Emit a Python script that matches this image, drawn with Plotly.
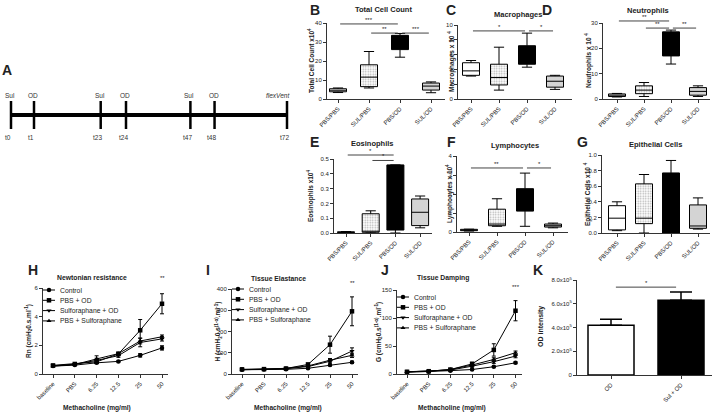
import plotly.graph_objects as go

# ---------------------------------------------------------------- data
timeline_labels = ["t0", "t1", "t23", "t24", "t47", "t48", "t72"]
timeline_events = ["Sul", "OD", "Sul", "OD", "Sul", "OD", "<i>flexVent</i>"]
timeline_schematic = [0, 1, 3.9, 5.0, 7.8, 8.85, 12.0]   # schematic (not to scale) spacing

box_categories = ["PBS/PBS", "SUL/PBS", "PBS/OD", "SUL/OD"]
# each group: [min, q1, median, q3, max]
total_cell_count = [[3.4, 3.8, 4.6, 5.4, 5.8], [5.8, 6.5, 11.5, 18.0, 25.0],
                    [22.0, 26.0, 32.5, 33.5, 34.5], [3.3, 4.7, 6.8, 8.4, 9.0]]
macrophages = [[3.1, 3.2, 3.8, 4.9, 5.2], [1.2, 1.9, 2.9, 4.7, 7.0],
               [4.3, 4.7, 6.0, 7.2, 8.9], [1.3, 1.6, 2.4, 3.1, 3.2]]
neutrophils = [[0.8, 1.0, 1.5, 2.0, 2.2], [1.0, 2.1, 3.5, 5.2, 6.5],
               [13.8, 17.0, 25.5, 26.5, 27.2], [1.0, 1.5, 3.0, 4.5, 5.2]]
eosinophils = [[0.002, 0.003, 0.005, 0.008, 0.010], [0.0, 0.005, 0.012, 0.13, 0.15],
               [0.0, 0.02, 0.45, 0.46, 0.46], [0.035, 0.05, 0.14, 0.23, 0.25]]
lymphocytes = [[0.05, 0.07, 0.10, 0.14, 0.15], [0.30, 0.33, 0.42, 1.20, 1.75],
               [0.30, 1.10, 1.60, 2.28, 3.10], [0.22, 0.26, 0.33, 0.42, 0.47]]
epithelial = [[0.03, 0.04, 0.19, 0.35, 0.40], [0.0, 0.12, 0.19, 0.63, 0.75],
              [0.0, 0.0, 0.50, 0.77, 0.93], [0.05, 0.06, 0.09, 0.36, 0.45]]

# significance bars: (from group, to group, height, label)
total_cell_sig = [(0, 2, 39.5, "***"), (1, 2, 34.7, "**"), (2, 3, 34.7, "***")]
macrophage_sig = [(0, 2, 9.2, "*"), (2, 3, 9.2, "*")]
neutrophil_sig = [(0, 2, 30.8, "**"), (1, 2, 28.0, "**"), (2, 3, 28.0, "**")]
eosinophil_sig = [(0, 2, 0.527, "*"), (1, 2, 0.49, "*")]
lymphocyte_sig = [(0, 2, 3.37, "**"), (2, 3, 3.37, "*")]

methacholine_doses = ["baseline", "PBS", "6.25", "12.5", "25", "50"]
series_names = ["Control", "PBS + OD", "Sulforaphane + OD", "PBS + Sulforaphane"]

rn_mean = [[0.55, 0.62, 0.78, 0.88, 1.30, 1.82],
           [0.60, 0.70, 0.85, 1.40, 3.05, 4.90],
           [0.58, 0.68, 0.95, 1.28, 2.20, 2.45],
           [0.55, 0.66, 1.05, 1.42, 2.30, 2.60]]
rn_sem = [[0.03, 0.03, 0.05, 0.05, 0.12, 0.15],
          [0.05, 0.05, 0.10, 0.12, 0.75, 0.70],
          [0.04, 0.05, 0.15, 0.12, 0.30, 0.15],
          [0.04, 0.05, 0.22, 0.10, 0.20, 0.12]]
h_mean = [[20, 21, 22, 27, 42, 55],
          [22, 23, 26, 45, 138, 295],
          [20, 22, 25, 35, 60, 108],
          [21, 22, 27, 38, 65, 88]]
h_sem = [[2, 2, 2, 3, 4, 5],
         [2, 2, 3, 6, 40, 68],
         [2, 2, 3, 4, 8, 15],
         [2, 2, 3, 4, 8, 10]]
g_mean = [[3, 4, 6, 8, 13, 20],
          [4, 5, 8, 18, 43, 113],
          [4, 5, 7, 14, 22, 32],
          [4, 5, 8, 16, 26, 38]]
g_sem = [[0.5, 0.5, 0.5, 1, 1, 1.5],
         [0.5, 0.5, 1, 3, 11, 18],
         [0.5, 0.5, 1, 2, 3, 3],
         [0.5, 0.5, 1, 2, 3, 3]]
rn_sig = ("50", 6.35, "**")
h_sig = ("50", 405, "**")
g_sig = ("50", 146, "***")

od_groups = ["OD", "Sul + OD"]
od_intensity = [4.2e5, 6.3e5]
od_sem = [0.5e5, 0.7e5]
od_sig = [(0, 1, 7.4e5, "*")]
od_tickvals = [0, 2e5, 4e5, 6e5, 8e5]
od_ticktext = ["0", "2.0x10<sup>5</sup>", "4.0x10<sup>5</sup>", "6.0x10<sup>5</sup>", "8.0x10<sup>5</sup>"]

# ---------------------------------------------------------------- layout helpers
W, H = 714, 413
FONT = "Arial"
AXC = "#333333"
TXT = "#222222"

fig = go.Figure()
layout = dict(template="none", width=W, height=H, autosize=False, margin=dict(l=0, r=0, t=0, b=0, pad=0),
              paper_bgcolor="white", plot_bgcolor="rgba(0,0,0,0)", showlegend=False,
              barmode="overlay", boxmode="overlay",
              font=dict(family=FONT, color=TXT))
annotations = []
shapes = []


def akey(n, l):
    return f"{l}axis" if n == 1 else f"{l}axis{n}"


def aref(n, l):
    return l if n == 1 else f"{l}{n}"


def pxx(x):
    return x / W


def pxy(y):
    return 1 - y / H


def text(t, x, y, size=7, bold=False, angle=0, xanchor="center", yanchor="middle"):
    if bold:
        t = f"<b>{t}</b>"
    annotations.append(dict(text=t, x=pxx(x), y=pxy(y), xref="paper", yref="paper",
                            showarrow=False, textangle=angle, xanchor=xanchor, yanchor=yanchor,
                            font=dict(size=size, family=FONT, color=TXT)))


def y_to_paper(p, v):
    r0, r1 = p["yrange"]
    top, bot = p["ypx"]
    return pxy(bot) + (v - r0) / (r1 - r0) * (pxy(top) - pxy(bot))


BASE = dict(showgrid=False, zeroline=False, showline=True, linecolor=AXC, linewidth=1,
            ticks="outside", ticklen=3, tickwidth=1, tickcolor=AXC, automargin=False,
            tickfont=dict(size=6, family=FONT, color=TXT), fixedrange=True)


def setup_axes(p, xcfg, ycfg):
    n = p["n"]
    x0, x1 = p["xpx"]
    top, bot = p["ypx"]
    xr = [(x0 - p["first"]) / p["step"], (x1 - p["first"]) / p["step"]]
    layout[akey(n, "x")] = dict(BASE, domain=[pxx(x0), pxx(x1)], range=xr, anchor=aref(n, "y"), **xcfg)
    layout[akey(n, "y")] = dict(BASE, domain=[pxy(bot), pxy(top)], range=p["yrange"], anchor=aref(n, "x"), **ycfg)


def sig_bars(p, sig):
    n = p["n"]
    for a, b, v, stars in sig:
        yp = y_to_paper(p, v)
        shapes.append(dict(type="line", xref=aref(n, "x"), yref="paper", x0=a + 0.07, x1=b - 0.07,
                           y0=yp, y1=yp, line=dict(color="#444", width=1)))
        annotations.append(dict(text=stars, x=(a + b) / 2, y=yp, xref=aref(n, "x"), yref="paper",
                                yanchor="bottom", showarrow=False, yshift=-1,
                                font=dict(size=6, family=FONT, color=TXT)))


PANELS = {
    "B": dict(n=2, xpx=(327, 445), ypx=(23, 99), first=338, step=31, yrange=[0, 40], dtick=10,
              letter=(315, 10), title=(383, 9), ytitle_x=311),
    "C": dict(n=3, xpx=(458, 572), ypx=(25, 99), first=471, step=28, yrange=[0, 10], dtick=2,
              letter=(451, 10), title=(518, 14), ytitle_x=451),
    "D": dict(n=4, xpx=(603, 710), ypx=(23, 99), first=617, step=27, yrange=[0, 30], dtick=10,
              letter=(547, 10), title=(648, 10), ytitle_x=589),
    "E": dict(n=5, xpx=(334, 432), ypx=(159, 233), first=346, step=24.7, yrange=[0, 0.5], dtick=0.1,
              letter=(314, 142), title=(372, 143), ytitle_x=310),
    "F": dict(n=6, xpx=(457, 568), ypx=(156, 232), first=469, step=28, yrange=[0, 4], dtick=1,
              letter=(451, 142), title=(515, 145), ytitle_x=449),
    "G": dict(n=7, xpx=(602, 710), ypx=(155, 233), first=617, step=27, yrange=[0, 1.0], dtick=0.2,
              letter=(582, 142), title=(655, 144), ytitle_x=587),
    "H": dict(n=8, xpx=(43, 168), ypx=(288, 374), first=53, step=21.8, yrange=[0, 6], dtick=2,
              letter=(33, 270), title=(92, 277), ytitle_x=28, xtitle=97, legend_y=290),
    "I": dict(n=9, xpx=(232, 358), ypx=(289, 374), first=242, step=22, yrange=[0, 400], dtick=100,
              letter=(208, 270), title=(278, 278), ytitle_x=218, xtitle=288, legend_y=289),
    "J": dict(n=10, xpx=(397, 522), ypx=(290, 374), first=407, step=21.7, yrange=[0, 150], dtick=50,
              letter=(385, 270), title=(443, 278), ytitle_x=378, xtitle=452, legend_y=297),
    "K": dict(n=11, xpx=(577, 712), ypx=(280, 375), first=611, step=70, yrange=[0, 8e5],
              letter=(538, 270), ytitle_x=541),
}

BOX_FILLS = ["white", "dots", "black", "#d4d4d4"]
BOX_PX = 17


def panel_text(key, title, ytitle, ysize=6.5, tsize=7.5):
    p = PANELS[key]
    text(key, *p["letter"], size=14, bold=True)
    if title:
        text(title, *p["title"], size=tsize, bold=True)
    top, bot = p["ypx"]
    text(ytitle, p["ytitle_x"], (top + bot) / 2, size=ysize, bold=True, angle=-90)


def box_panel(key, stats, sig, title, ytitle, tickformat=""):
    p = PANELS[key]
    n = p["n"]
    setup_axes(p, dict(type="category", categoryorder="array", categoryarray=box_categories, tickangle=-45),
               dict(dtick=p["dtick"], tick0=0, tickformat=tickformat))
    bw = BOX_PX / p["step"]
    for cat, s, fill in zip(box_categories, stats, BOX_FILLS):
        mn, q1, med, q3, mx = s
        fc = fill
        if fill == "dots":
            fig.add_trace(go.Bar(x=[cat], y=[q3 - q1], base=[q1], width=[bw],
                                 marker=dict(color="white", line=dict(width=0),
                                             pattern=dict(shape=".", fgcolor="#b0b0b0", bgcolor="white",
                                                          size=2.5, solidity=0.3)),
                                 xaxis=aref(n, "x"), yaxis=aref(n, "y"), hoverinfo="skip"))
            fc = "rgba(0,0,0,0)"
        fig.add_trace(go.Box(x=[cat], q1=[q1], median=[med], q3=[q3], lowerfence=[mn], upperfence=[mx],
                             orientation="v", width=bw, fillcolor=fc, whiskerwidth=0.6,
                             line=dict(color="black", width=1), boxpoints=False,
                             xaxis=aref(n, "x"), yaxis=aref(n, "y")))
    sig_bars(p, sig)
    panel_text(key, title, ytitle)


SYMBOLS = ["circle", "square", "triangle-down", "triangle-up"]


def line_panel(key, means, sems, sig, title, ytitle):
    p = PANELS[key]
    n = p["n"]
    setup_axes(p, dict(type="category", categoryorder="array", categoryarray=methacholine_doses, tickangle=-45),
               dict(dtick=p["dtick"], tick0=0))
    for m, e, sym in zip(means, sems, SYMBOLS):
        fig.add_trace(go.Scatter(x=methacholine_doses, y=m, mode="lines+markers",
                                 line=dict(color="black", width=1),
                                 marker=dict(symbol=sym, size=4.5, color="black"),
                                 error_y=dict(type="data", array=e, color="black", thickness=1, width=2),
                                 cliponaxis=False, xaxis=aref(n, "x"), yaxis=aref(n, "y")))
    dose, v, stars = sig
    annotations.append(dict(text=stars, x=methacholine_doses.index(dose), y=y_to_paper(p, v),
                            xref=aref(n, "x"), yref="paper", showarrow=False,
                            font=dict(size=6, family=FONT, color=TXT)))
    panel_text(key, title, ytitle, tsize=6.8)
    text("Methacholine (mg/ml)", p["xtitle"], 408, size=6.6, bold=True)
    # legend keys (drawn on the full-page pixel overlay axis 12)
    lx = p["xpx"][0]
    for i, (name, sym) in enumerate(zip(series_names, SYMBOLS)):
        ly = p["legend_y"] + i * 10.3
        fig.add_trace(go.Scatter(x=[lx, lx + 12], y=[ly, ly], mode="lines", line=dict(color="black", width=1),
                                 xaxis="x12", yaxis="y12", hoverinfo="skip"))
        fig.add_trace(go.Scatter(x=[lx + 6], y=[ly], mode="markers",
                                 marker=dict(symbol=sym, size=4.5, color="black"),
                                 xaxis="x12", yaxis="y12", hoverinfo="skip"))
        text(name, lx + 15, ly, size=6.8, xanchor="left")


# ---------------------------------------------------------------- panel A (timeline)
tl_unit, tl_origin = 23, 11
layout["xaxis"] = dict(domain=[0, pxx(300)], range=[(0 - tl_origin) / tl_unit, (300 - tl_origin) / tl_unit],
                       visible=False, fixedrange=True, anchor="y", automargin=False)
layout["yaxis"] = dict(domain=[pxy(135), pxy(95)], range=[-1, 1], visible=False, fixedrange=True, anchor="x",
                       automargin=False)
fig.add_trace(go.Scatter(x=[timeline_schematic[0], timeline_schematic[-1]], y=[0, 0], mode="lines",
                         line=dict(color="black", width=4), xaxis="x", yaxis="y", hoverinfo="skip"))
fig.add_trace(go.Scatter(x=timeline_schematic, y=[0] * len(timeline_schematic), mode="markers",
                         marker=dict(symbol="line-ns-open", size=20, color="black",
                                     line=dict(color="black", width=2.5)),
                         xaxis="x", yaxis="y", hoverinfo="skip", cliponaxis=False))
for pos, lab, ev in zip(timeline_schematic, timeline_labels, timeline_events):
    annotations.append(dict(text=lab, x=pos, y=pxy(132), xref="x", yref="paper", showarrow=False,
                            xshift=-3, font=dict(size=6.5, family=FONT, color="#333")))
    annotations.append(dict(text=ev, x=pos, y=pxy(90), xref="x", yref="paper", showarrow=False,
                            xshift=-9 if "flex" in ev else -1, font=dict(size=6.5, family=FONT, color="#333")))
text("A", 7, 70, size=14, bold=True)

# full-page pixel overlay axis for legend keys
layout["xaxis12"] = dict(domain=[0, 1], range=[0, W], visible=False, fixedrange=True, anchor="y12", automargin=False)
layout["yaxis12"] = dict(domain=[0, 1], range=[H, 0], visible=False, fixedrange=True, anchor="x12", automargin=False)

# ---------------------------------------------------------------- box panels
box_panel("B", total_cell_count, total_cell_sig, "Total Cell Count", "Total Cell Count x10<sup>4</sup>")
box_panel("C", macrophages, macrophage_sig, "Macrophages", "Macrophages x 10 <sup>4</sup>")
box_panel("D", neutrophils, neutrophil_sig, "Neutrophils", "Neutrophils x 10 <sup>4</sup>")
box_panel("E", eosinophils, eosinophil_sig, "Eosinophils", "Eosinophils x10<sup>4</sup>", tickformat=".1f")
box_panel("F", lymphocytes, lymphocyte_sig, "Lymphocytes", "Lymphocytes x 10<sup>4</sup>")
box_panel("G", epithelial, [], "Epithelial Cells", "Epithelial Cells x10 <sup>4</sup>", tickformat=".1f")

# ---------------------------------------------------------------- lung function panels
line_panel("H", rn_mean, rn_sem, rn_sig, "Newtonian resistance", "Rn (cmH<sub>2</sub>0.s.ml<sup>-1</sup>)")
line_panel("I", h_mean, h_sem, h_sig, "Tissue Elastance",
           "H (cmH<sub>2</sub>0.s<sup>(1-\u03b1)</sup>.ml<sup>-1</sup>)")
line_panel("J", g_mean, g_sem, g_sig, "Tissue Damping",
           "G (cmH<sub>2</sub>0.s<sup>(1-\u03b1)</sup>.ml<sup>-1</sup>)")

# ---------------------------------------------------------------- panel K
pk = PANELS["K"]
setup_axes(pk, dict(type="category", categoryorder="array", categoryarray=od_groups, tickangle=-45),
           dict(tickvals=od_tickvals, ticktext=od_ticktext))
fig.add_trace(go.Bar(x=od_groups, y=od_intensity, width=46 / pk["step"],
                     marker=dict(color=["white", "black"], line=dict(color="black", width=1.5)),
                     error_y=dict(type="data", array=od_sem, arrayminus=[0, 0], symmetric=False,
                                  color="black", thickness=1.5, width=11),
                     xaxis="x11", yaxis="y11"))
sig_bars(pk, od_sig)
text("K", *pk["letter"], size=14, bold=True)
text("OD intensity", pk["ytitle_x"], 327, size=7, bold=True, angle=-90)

layout["annotations"] = annotations
layout["shapes"] = shapes
fig.update_layout(**layout)
fig.write_html("out.html", config={"displayModeBar": False, "staticPlot": True},
               post_script="document.body.style.margin='0px';document.body.style.padding='0px';")
